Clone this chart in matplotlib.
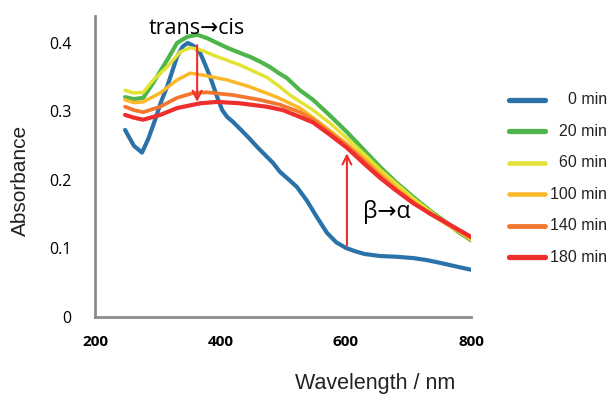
import matplotlib.pyplot as plt
from matplotlib.lines import Line2D

# spectra (wavelength nm, absorbance)
wl_0 = [248, 262, 275, 285, 296, 305, 315, 323, 331, 340, 348, 357, 368, 376, 384, 395, 403, 411, 420,
        431, 445, 459, 472, 484, 495, 510, 522, 538, 554, 570, 585, 600, 615, 630, 655, 680, 708, 730,
        751, 775, 800]
abs_0 = [0.273, 0.250, 0.240, 0.260, 0.288, 0.313, 0.336, 0.358, 0.380, 0.395, 0.400, 0.396, 0.385, 0.368,
         0.350, 0.321, 0.302, 0.292, 0.285, 0.275, 0.262, 0.248, 0.236, 0.225, 0.212, 0.200, 0.190, 0.170,
         0.146, 0.123, 0.109, 0.101, 0.096, 0.092, 0.089, 0.088, 0.086, 0.083, 0.079, 0.074, 0.069]

wl_20 = [248, 262, 277, 293, 305, 315, 331, 347, 363, 379, 395, 411, 430, 447, 463, 479, 495, 506, 527,
         548, 575, 602, 628, 655, 680, 708, 735, 762, 780, 800]
abs_20 = [0.321, 0.318, 0.320, 0.342, 0.360, 0.375, 0.400, 0.409, 0.412, 0.407, 0.400, 0.393, 0.386, 0.380,
          0.373, 0.365, 0.355, 0.349, 0.331, 0.317, 0.294, 0.270, 0.245, 0.219, 0.197, 0.175, 0.155, 0.137,
          0.124, 0.112]

wl_60 = [248, 262, 277, 293, 315, 336, 352, 368, 395, 431, 474, 495, 511, 548, 575, 602, 628, 655, 680,
         708, 735, 762, 800]
abs_60 = [0.331, 0.327, 0.328, 0.346, 0.365, 0.387, 0.393, 0.390, 0.380, 0.368, 0.350, 0.336, 0.324, 0.302,
          0.283, 0.261, 0.239, 0.215, 0.195, 0.173, 0.154, 0.136, 0.113]

wl_100 = [248, 262, 277, 304, 331, 352, 373, 411, 447, 490, 527, 548, 575, 602, 628, 655, 680, 708, 735,
          762, 800]
abs_100 = [0.317, 0.313, 0.314, 0.327, 0.346, 0.356, 0.353, 0.346, 0.336, 0.321, 0.305, 0.291, 0.272, 0.253,
           0.233, 0.210, 0.190, 0.169, 0.151, 0.135, 0.114]

wl_140 = [248, 262, 277, 304, 331, 357, 379, 420, 463, 495, 527, 548, 575, 602, 628, 655, 680, 708, 735,
          762, 800]
abs_140 = [0.307, 0.302, 0.299, 0.307, 0.320, 0.327, 0.328, 0.324, 0.317, 0.310, 0.299, 0.288, 0.269, 0.250,
           0.229, 0.206, 0.186, 0.167, 0.150, 0.136, 0.116]

wl_180 = [248, 262, 277, 304, 331, 368, 395, 431, 474, 500, 527, 548, 575, 602, 628, 655, 680, 708, 735,
          762, 800]
abs_180 = [0.295, 0.291, 0.288, 0.295, 0.305, 0.312, 0.314, 0.312, 0.307, 0.302, 0.292, 0.284, 0.266, 0.247,
           0.225, 0.203, 0.185, 0.166, 0.151, 0.137, 0.117]

labels = ['0 min', '20 min', '60 min', '100 min', '140 min', '180 min']
colors = ['#2a72a8', '#4db54a', '#e3e336', '#fbb829', '#f3772f', '#ee2d2d']
widths = [3.0, 3.0, 2.5, 2.5, 2.7, 3.0]
xticks = [200, 400, 600, 800]
yticks = [0, 0.1, 0.2, 0.3, 0.4]

series = [(wl_0, abs_0), (wl_20, abs_20), (wl_60, abs_60),
          (wl_100, abs_100), (wl_140, abs_140), (wl_180, abs_180)]

fig = plt.figure(figsize=(6.11, 3.96), dpi=100)
ax = fig.add_axes([95 / 611, 1 - 317 / 396, 376 / 611, 301 / 396])

for (x, y), c, lw in zip(series, colors, widths):
    ax.plot(x, y, color=c, lw=lw, solid_capstyle='round', solid_joinstyle='round')

ax.set_xlim(200, 800)
ax.set_ylim(0, 0.4394)
ax.set_xticks(xticks)
ax.set_xticklabels([str(v) for v in xticks], fontweight='bold', fontsize=11, family='Open Sans')
ax.set_yticks(yticks)
ax.set_yticklabels(['0', '0.1', '0.2', '0.3', '0.4'], fontsize=11.5, family='Open Sans')
ax.tick_params(axis='y', length=0, pad=17)
ax.tick_params(axis='x', length=0, pad=13)
for s in ['top', 'right']:
    ax.spines[s].set_visible(False)
for s in ['left', 'bottom']:
    ax.spines[s].set_color('#8c8c8c')
    ax.spines[s].set_linewidth(2)

# arrows and their captions
red = '#ee2d2d'
ax.annotate('', xy=(363, 0.314), xytext=(363, 0.397),
            arrowprops=dict(arrowstyle='->', color=red, lw=1.5, shrinkA=0, shrinkB=0, mutation_scale=16))
ax.annotate('', xy=(602, 0.239), xytext=(602, 0.105),
            arrowprops=dict(arrowstyle='->', color=red, lw=1.5, shrinkA=0, shrinkB=0, mutation_scale=16))
fig.text(197 / 611, 1 - 28 / 396, 'trans→cis', ha='center', va='center', fontsize=15.5,
         family=['Open Sans', 'DejaVu Sans'])
fig.text(387 / 611, 1 - 212 / 396, 'β→α', ha='center', va='center', fontsize=16.5,
         family=['Open Sans', 'DejaVu Sans'])

fig.text(20 / 611, 1 - 180 / 396, 'Absorbance', rotation=90, ha='center', va='center',
         fontsize=15, family='Liberation Sans', color='#222222')
fig.text(375 / 611, 1 - 383 / 396, 'Wavelength / nm', ha='center', va='center',
         fontsize=15.5, family='Liberation Sans', color='#222222')

# legend, text right aligned like the original
for i, (lab, c, lw) in enumerate(zip(labels, colors, widths)):
    yy = 1 - (100 + 31.4 * i) / 396
    fig.add_artist(Line2D([509 / 611, 545 / 611], [yy, yy], color=c, lw=lw + 0.8,
                          solid_capstyle='round', transform=fig.transFigure))
    fig.text(607 / 611, yy, lab, ha='right', va='center', fontsize=11.5,
             family='Liberation Sans', color='#222222')

fig.savefig('out.png', dpi=100)
